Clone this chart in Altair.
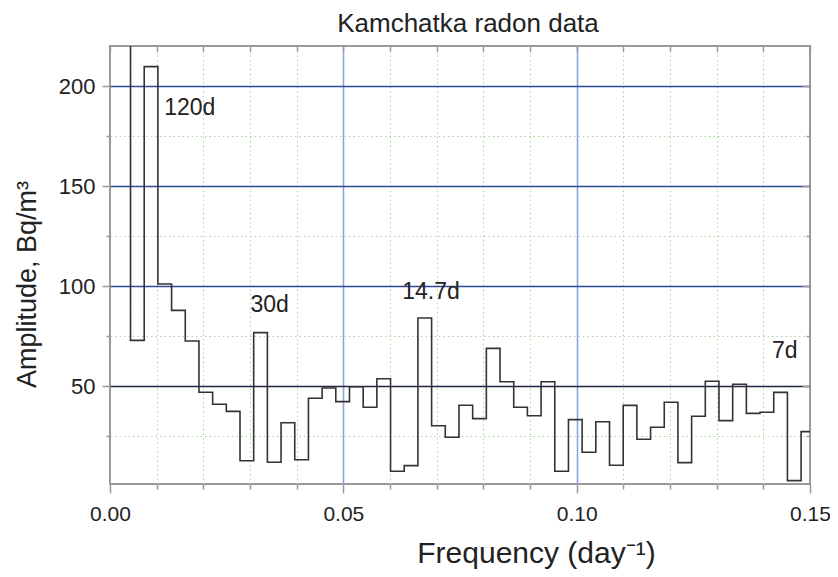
import altair as alt
import pandas as pd

# ---- data ----
freq_step = 1 / 341  # frequency resolution (day^-1)
harmonic = list(range(1, 52))
amplitude = [260, 72.8, 209.7, 101, 87.8, 72.5, 46.9, 40.9, 37.3, 12.6,
             76.7, 11.9, 31.6, 13.1, 43.9, 49.0, 42.2, 49.6, 39.4, 53.6,
             7.4, 10.2, 84.0, 30.1, 24.4, 40.4, 33.7, 68.8, 52.1, 39.4,
             35.1, 52.1, 7.4, 33.2, 16.9, 32.1, 10.4, 40.3, 23.4, 29.4,
             41.9, 11.7, 34.9, 52.4, 32.7, 50.9, 36.3, 36.9, 46.8, 2.7, 27.2]

ann_text = ["120d", "30d", "14.7d", "7d"]
ann_x = [0.0171, 0.0342, 0.0688, 0.1446]
ann_y = [189, 90.5, 97, 67.6]

title_text = ["Kamchatka radon data"]

x_ticks = [round(i * 0.01, 2) for i in range(16)]
y_ticks = [25, 50, 75, 100, 125, 150, 175, 200]
y_major = [50, 100, 150, 200]
y_minor = [25, 75, 125, 175]

# step table: bin edges built from harmonic centres
edges = [(k - 0.5) * freq_step for k in harmonic] + [(harmonic[-1] + 0.5) * freq_step]
vals = amplitude + [amplitude[-1]]
step_df = pd.DataFrame({"freq": edges, "amp": vals})
ann_df = pd.DataFrame({"x": ann_x, "y": ann_y, "label": ann_text})
title_df = pd.DataFrame({"t": title_text})

FONT = "Liberation Sans, Arial, sans-serif"
x_scale = alt.Scale(domain=[0, 0.15], nice=False, zero=False)
y_scale = alt.Scale(domain=[1, 220], nice=False, zero=False)

mx = "abs(datum.value*20 - round(datum.value*20)) < 1e-6"
my = "datum.value % 50 === 0"
edge_x = "datum.value < 0.001 || datum.value > 0.149"

x_axis = alt.Axis(
    values=x_ticks, format=".2f", labelExpr=f"({mx}) ? datum.label : ''",
    labelFlush=False, labelOverlap=False,
    tickSize={"condition": {"test": mx, "value": 9}, "value": 5},
    tickColor="#999999", tickWidth=1.5, domain=False,
    grid=True,
    gridColor={"condition": {"test": mx, "value": "#8fa6da"}, "value": "#a6d69e"},
    gridDash={"condition": {"test": mx, "value": []}, "value": [1.5, 3]},
    gridWidth={"condition": {"test": mx, "value": 1.6}, "value": 1},
    gridOpacity={"condition": {"test": edge_x, "value": 0}, "value": 1},
    labelFontSize=21, labelFont=FONT, labelColor="#222222",
    labelBaseline="alphabetic", labelPadding=27.5,
    title="Frequency (day⁻¹)", titleFont=FONT, titleFontSize=30,
    titleFontWeight="normal", titleColor="#222222",
    titleX=426, titleY=78, titleAlign="center", titleBaseline="alphabetic",
)

y_axis = alt.Axis(
    values=y_ticks, labelExpr=f"({my}) ? datum.label : ''",
    labelFlush=False, labelOverlap=False,
    tickSize={"condition": {"test": my, "value": 8}, "value": 4},
    tickColor="#999999", tickWidth=1.5, domain=False,
    grid=True,
    gridColor={"condition": [{"test": "datum.value == 50", "value": "#1e2444"},
                             {"test": my, "value": "#2f4a9a"}],
               "value": "#a6d69e"},
    gridDash={"condition": {"test": my, "value": []}, "value": [1.5, 3]},
    gridWidth={"condition": {"test": my, "value": 1.4}, "value": 1},
    labelFontSize=22, labelFont=FONT, labelColor="#222222",
    labelPadding=7, labelBaseline="middle",
    title="Amplitude, Bq/m³", titleFont=FONT, titleFontSize=27,
    titleFontWeight="normal", titleColor="#222222",
    titleAngle=270, titleX=-75, titleY=238, titleAlign="center",
    titleBaseline="alphabetic",
)

line = alt.Chart(step_df).mark_line(
    interpolate="step-after", color="#333333", strokeWidth=1.6, clip=True
).encode(
    x=alt.X("freq:Q", scale=x_scale, axis=x_axis),
    y=alt.Y("amp:Q", scale=y_scale, axis=y_axis),
)

labels = alt.Chart(ann_df).mark_text(
    font=FONT, fontSize=23, color="#222222", align="center", baseline="middle"
).encode(
    x=alt.X("x:Q", scale=x_scale, axis=alt.Axis(
        orient="top", values=x_ticks, labels=False, grid=False, domain=False,
        tickSize=5, offset=-5, tickColor="#999999", tickWidth=1.5, title=None)),
    y=alt.Y("y:Q", scale=y_scale, axis=alt.Axis(
        orient="right", values=y_major, labels=False, grid=False, domain=False,
        tickSize=8, offset=-8, tickColor="#999999", tickWidth=1.5, title=None)),
    text="label:N",
)

minor_right = alt.Chart(step_df).mark_point(opacity=0).encode(
    x=alt.X("freq:Q", scale=x_scale, axis=None),
    y=alt.Y("amp:Q", scale=y_scale, axis=alt.Axis(
        orient="right", values=y_minor, labels=False, grid=False, domain=False,
        tickSize=4, offset=-4, tickColor="#999999", tickWidth=1.5, title=None)),
)

title = alt.Chart(title_df).mark_text(
    font=FONT, fontSize=26, color="#222222", align="center", baseline="alphabetic"
).encode(
    x=alt.value(358), y=alt.value(-14.5), text="t:N",
)

chart = alt.layer(line, labels, minor_right, title).resolve_axis(
    x="independent", y="independent"
).properties(
    width=700, height=438,
    autosize=alt.AutoSizeParams(type="none"),
    padding={"left": 102, "top": 38, "right": 20, "bottom": 85},
).configure_view(stroke="#9a9a9a", strokeWidth=2)

chart.save("out.html", embed_options={"renderer": "svg", "actions": False})
